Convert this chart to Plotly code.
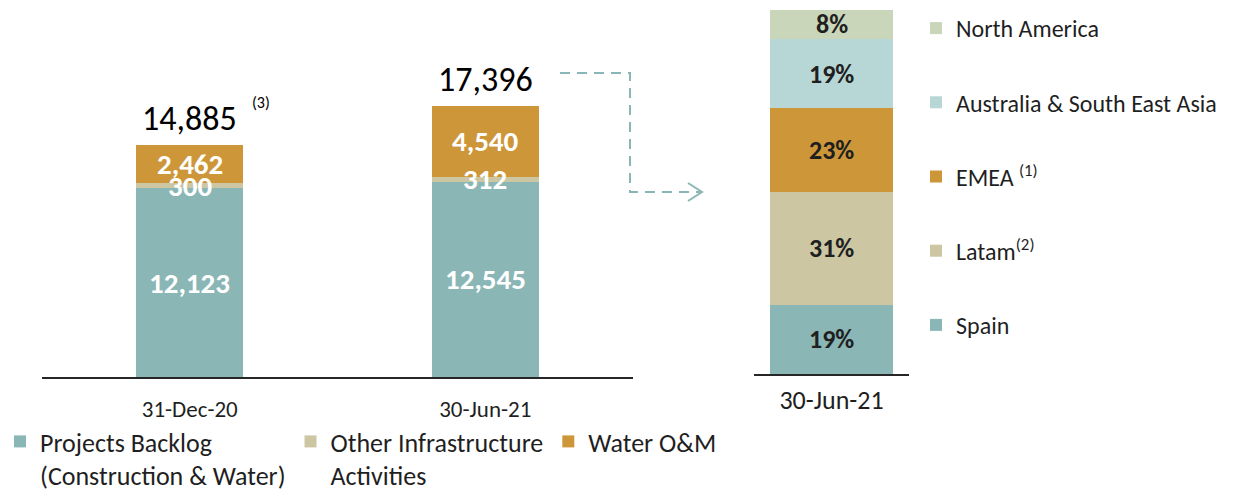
import plotly.graph_objects as go

# ---------------- data ----------------
categories_left = ["31-Dec-20", "30-Jun-21"]
projects_backlog = [12123, 12545]
other_infra = [300, 312]
water_om = [2462, 4540]
reported_totals = ["14,885", "17,396"]
total_notes = ["(3)", ""]

category_right = ["30-Jun-21"]
region_names = ["Spain", "Latam<sup>(2)</sup>", "EMEA <sup>(1)</sup>",
                "Australia & South East Asia", "North America"]
region_share = [19, 31, 23, 19, 8]

# ---------------- style ----------------
FONT = "Carlito, Lato, sans-serif"
TXT = "#1f1f1f"
C_TEAL = "#8AB6B6"
C_TAN = "#CCC6A3"
C_GOLD = "#CD9739"
C_LBLUE = "#B7D6D6"
C_LGREEN = "#CAD6BA"
W, H = 1256, 489

fig = go.Figure()

left_series = [
    ("Projects Backlog<br>(Construction & Water)", projects_backlog, C_TEAL),
    ("Other Infrastructure<br>Activities", other_infra, C_TAN),
    ("Water O&M", water_om, C_GOLD),
]
for name, vals, col in left_series:
    fig.add_trace(go.Bar(
        x=categories_left, y=vals, name=name, marker=dict(color=col, line_width=0),
        width=0.362, xaxis="x", yaxis="y", legend="legend", hoverinfo="skip",
    ))

right_colors = [C_TEAL, C_TAN, C_GOLD, C_LBLUE, C_LGREEN]
n = len(region_names)
for i, (name, v, col) in enumerate(zip(region_names, region_share, right_colors)):
    fig.add_trace(go.Bar(
        x=category_right, y=[v], name=name, marker=dict(color=col, line_width=0),
        width=0.794, xaxis="x2", yaxis="y2", legend="legend2",
        legendgroup=f"g{i}", legendrank=n - i, hoverinfo="skip",
    ))

annotations = []
# segment labels left
for ci, cat in enumerate(categories_left):
    base = 0
    for _, vals, _ in left_series:
        v = vals[ci]
        annotations.append(dict(
            x=cat, y=base + v / 2, xref="x", yref="y", text=f"<b>{v:,}</b>",
            showarrow=False, font=dict(family=FONT, size=29, color="white"),
        ))
        base += v
    annotations.append(dict(
        x=cat, y=base, xref="x", yref="y", text=reported_totals[ci],
        showarrow=False, yanchor="bottom", yshift=4,
        font=dict(family=FONT, size=34, color="#000"),
    ))
    if total_notes[ci]:
        annotations.append(dict(
            x=cat, y=base, xref="x", yref="y", text=total_notes[ci],
            showarrow=False, yanchor="bottom", xanchor="left", yshift=31, xshift=60,
            font=dict(family=FONT, size=16, color="#000"),
        ))
# segment labels right
base = 0
for v in region_share:
    annotations.append(dict(
        x=category_right[0], y=base + v / 2, xref="x2", yref="y2",
        text=f"<b>{v}%</b>", showarrow=False,
        font=dict(family=FONT, size=26, color=TXT),
    ))
    base += v


def px(x, y):
    return f"{x / W:.5f},{1 - y / H:.5f}"


arrow_path = f"M{px(560, 73)} L{px(630, 73)} L{px(630, 192)} L{px(700, 192)}"
head_path = f"M{px(688, 183)} L{px(702, 192)} L{px(688, 201)}"
shapes = [
    dict(type="path", xref="paper", yref="paper", path=arrow_path,
         line=dict(color=C_TEAL, width=2, dash="10px,7px")),
    dict(type="path", xref="paper", yref="paper", path=head_path,
         line=dict(color=C_TEAL, width=2)),
]

fig.update_layout(
    width=W, height=H,
    margin=dict(l=0, r=0, t=0, b=0, autoexpand=False),
    paper_bgcolor="white", plot_bgcolor="white",
    barmode="stack",
    font=dict(family=FONT, size=24, color=TXT),
    xaxis=dict(domain=[42 / W, 633 / W], anchor="y", showline=True,
               linecolor="#262626", linewidth=1.5, showgrid=False,
               ticks="", ticklabelstandoff=11,
               tickfont=dict(family=FONT, size=23, color=TXT), fixedrange=True),
    yaxis=dict(domain=[1 - 377 / H, 1], range=[0, 24197], visible=False,
               fixedrange=True),
    xaxis2=dict(domain=[754 / W, 909 / W], anchor="y2", showline=True,
                linecolor="#262626", linewidth=1.5, showgrid=False,
                ticks="", ticklabelstandoff=2,
                tickfont=dict(family=FONT, size=26, color=TXT), fixedrange=True),
    yaxis2=dict(domain=[1 - 374 / H, 1], range=[0, 102.7], visible=False,
                fixedrange=True),
    legend=dict(orientation="h", x=0.0, y=1 - 418 / H, xanchor="left",
                yanchor="top", valign="top", traceorder="normal",
                font=dict(family=FONT, size=26, color=TXT),
                bgcolor="rgba(0,0,0,0)"),
    legend2=dict(orientation="v", x=916 / W, y=1 - 6 / H, xanchor="left",
                 yanchor="top", traceorder="grouped", tracegroupgap=40,
                 font=dict(family=FONT, size=24, color=TXT),
                 bgcolor="rgba(0,0,0,0)"),
    annotations=annotations,
    shapes=shapes,
    showlegend=True,
)

fig.write_html("out.html", config={"displayModeBar": False},
               post_script="document.body.style.margin='0';")
